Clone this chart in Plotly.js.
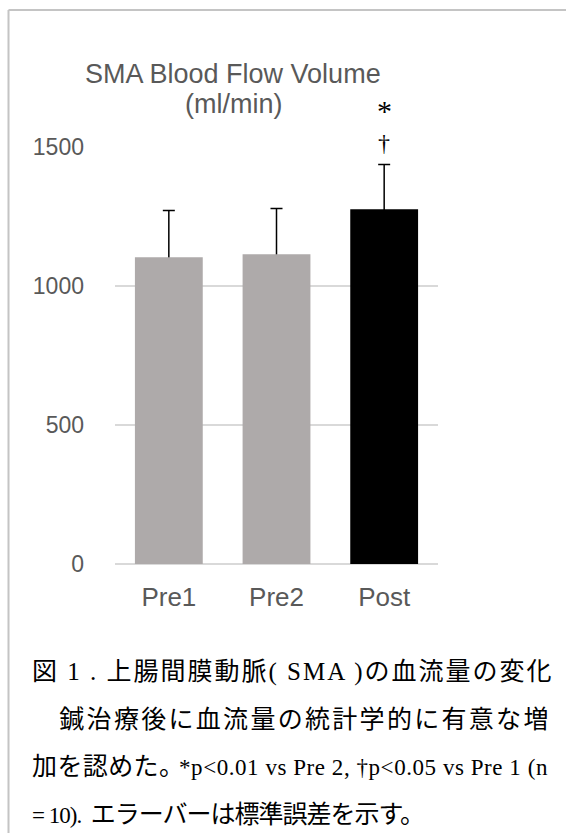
<!DOCTYPE html>
<html><head><meta charset="utf-8">
<script src="https://cdn.plot.ly/plotly-3.0.1.min.js"></script>
<style>html,body{margin:0;padding:0;background:#fff}#chart{width:566px;height:833px}</style>
</head><body><div id="chart"></div>
<script>
// ---- data ----
const categories = ['Pre1', 'Pre2', 'Post'];
const meanValues = [1103, 1114, 1276];
const seValues = [169, 165, 161];
const barColors = ['#AEAAAA', '#AEAAAA', '#000000'];
const yTickValues = [0, 500, 1000, 1500];
const yTickLabels = ['0', '500', '1000', '1500'];
const chartTitleLines = ['SMA Blood Flow Volume', '(ml/min)'];
const sigMarks = ['†', '*'];

// ---- layout helpers ----
const W = 566, H = 833;
const M = {l: 115, r: 128, t: 147, b: 269};
const plotW = W - M.l - M.r, plotH = H - M.t - M.b;
const px = x => (x - M.l) / plotW;
const py = y => (H - M.b - y) / plotH;

const greyText = '#595959';
const sans = '"Liberation Sans", Arial, sans-serif';
const cjk = '"Noto Sans CJK JP", sans-serif';
const serif = '"Liberation Serif", "Times New Roman", serif';
const NB = '\u00a0';
const tms = (t, size, ls) => `<span style="font-family:'Liberation Serif','Times New Roman',serif;font-size:${size}px${ls !== undefined ? ';letter-spacing:' + ls + 'px' : ''}">${t}</span>`;
const sp = (t, ls) => `<span style="letter-spacing:${ls}px">${t}</span>`;

const captionLines = [
  {text: `図${tms(' 1 . ', 25)}上腸間膜動脈${tms('( SMA )', 25)}の血流量の変化`, ls: 2.0, y: 669},
  {text: `　鍼治療後に血流量の統計学的に有意な増`, ls: 2.3, y: 717},
  {text: `加を認めた${sp('。', -5)}${tms('*p&lt;0.01 vs Pre 2, †p&lt;0.05 vs Pre 1 (n', 23, 0.55)}`, ls: 0.4, y: 764},
  {text: `${tms('= 10).' + NB + NB, 23)}エラーバーは標準誤差を示す。`, ls: -1, y: 812}
];

const traces = [
  { // carries the error bars; drawn first so the visible bars hide the lower half
    type: 'bar', x: categories, y: meanValues,
    marker: {color: 'rgba(0,0,0,0)'},
    error_y: {type: 'data', array: seValues, symmetric: true, color: '#000000', thickness: 1.5, width: 6},
    hoverinfo: 'skip', showlegend: false
  },
  {
    type: 'bar', x: categories, y: meanValues,
    marker: {color: barColors, line: {width: 0}},
    showlegend: false
  }
];

const annotations = [];
chartTitleLines.forEach((t, i) => annotations.push({
  text: t, xref: 'paper', yref: 'paper', x: px(233), y: py(i === 0 ? 74 : 104),
  xanchor: 'center', yanchor: 'middle', showarrow: false,
  font: {family: sans, size: 27, color: greyText}
}));
const postIdx = categories.indexOf('Post');
sigMarks.forEach((m, i) => annotations.push({
  text: m, x: categories[postIdx], y: meanValues[postIdx] + seValues[postIdx],
  xref: 'x', yref: 'y', yshift: i === 0 ? 22 : 54, showarrow: false,
  xanchor: 'center', yanchor: 'middle',
  font: {family: serif, size: i === 0 ? 24 : 30, color: '#000000'}
}));
captionLines.forEach(c => annotations.push({
  text: `<span style="letter-spacing:${c.ls}px">${c.text}</span>`,
  xref: 'paper', yref: 'paper', x: px(30), y: py(c.y),
  xanchor: 'left', yanchor: 'middle', align: 'left', showarrow: false,
  font: {family: cjk, size: 25, color: '#000000'}
}));

const borderColor = '#c4c4c4';
const shapes = [
  {type: 'line', xref: 'paper', yref: 'paper', x0: px(8.5), x1: px(W + 2), y0: py(10), y1: py(10),
   line: {color: borderColor, width: 2}},
  {type: 'line', xref: 'paper', yref: 'paper', x0: px(8.5), x1: px(8.5), y0: py(10), y1: py(H + 2),
   line: {color: borderColor, width: 2}}
];

const layout = {
  width: W, height: H,
  margin: M,
  paper_bgcolor: '#ffffff', plot_bgcolor: '#ffffff',
  barmode: 'overlay', bargap: 0.37,
  showlegend: false,
  xaxis: {
    type: 'category', showgrid: false, zeroline: false, showline: false,
    ticks: '', ticklabelstandoff: 15,
    tickfont: {family: sans, size: 26, color: greyText}
  },
  yaxis: {
    range: [0, 1500], tickvals: yTickValues, ticktext: yTickLabels,
    showgrid: true, gridcolor: '#d9d9d9', gridwidth: 1.3,
    zeroline: true, zerolinecolor: '#d9d9d9', zerolinewidth: 1.3,
    showline: false, ticks: '', ticklabelstandoff: 30,
    tickfont: {family: sans, size: 23, color: greyText}
  },
  annotations: annotations,
  shapes: shapes
};

Plotly.newPlot('chart', traces, layout, {staticPlot: true, displayModeBar: false});
</script>
</body></html>
